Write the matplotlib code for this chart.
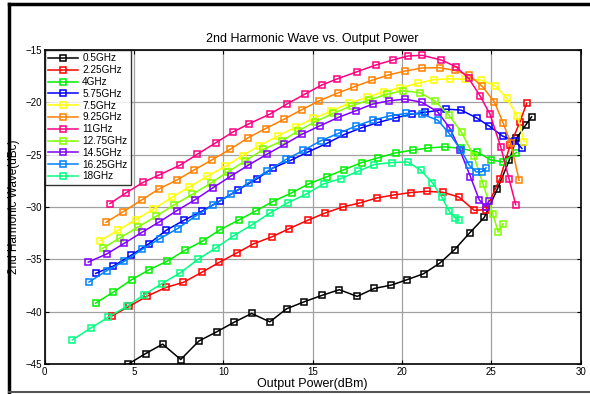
import matplotlib

matplotlib.use("Agg")
import matplotlib.pyplot as plt
from matplotlib.lines import Line2D

plt.rcParams["font.family"] = ["Liberation Sans", "DejaVu Sans"]

labels = ["0.5GHz", "2.25GHz", "4GHz", "5.75GHz", "7.5GHz", "9.25GHz",
          "11GHz", "12.75GHz", "14.5GHz", "16.25GHz", "18GHz"]
colors = ["#000000", "#ff0000", "#00ee00", "#0000ff", "#ffff00", "#ff8000",
          "#ff0080", "#80ff00", "#8000ff", "#0080ff", "#00ff80"]

# output power (dBm) / 2nd harmonic (dBc)
x_05 = [4.68, 5.65, 6.60, 7.61, 8.63, 9.62, 10.61, 11.58, 12.60, 13.54, 14.53, 15.52, 16.49, 17.49,
        18.44, 19.40, 20.27, 21.21, 22.12, 22.94, 23.78, 24.60, 25.33, 26.00, 26.40, 26.91, 27.25]
y_05 = [-45.0, -44.0, -43.1, -44.57, -42.8, -41.93, -41.0, -40.17, -40.97, -39.72, -39.05, -38.44, -37.9,
        -38.54, -37.78, -37.46, -36.95, -36.37, -35.35, -34.07, -32.48, -31.0, -28.3, -25.53, -23.45, -22.2, -21.38]

x_225 = [3.78, 4.72, 5.74, 6.79, 7.76, 8.79, 9.77, 10.74, 11.71, 12.70, 13.69, 14.72, 15.70, 16.68,
         17.64, 18.60, 19.55, 20.48, 21.41, 22.31, 23.18, 24.04, 24.70, 25.48, 26.05, 26.60, 26.97]
y_225 = [-40.39, -39.5, -38.51, -37.68, -37.2, -36.24, -35.29, -34.4, -33.5, -32.86, -32.06, -31.27, -30.57,
         -30.0, -29.61, -29.13, -28.85, -28.62, -28.5, -28.6, -29.05, -30.32, -30.25, -27.28, -24.1, -21.86, -20.1]

x_4 = [2.85, 3.84, 4.87, 5.85, 6.84, 7.85, 8.84, 9.83, 10.86, 11.82, 12.76, 13.82, 14.81, 15.78,
       16.77, 17.74, 18.67, 19.64, 20.59, 21.47, 22.40, 23.30, 24.18, 24.97, 25.63, 26.39]
y_4 = [-39.18, -38.13, -36.94, -35.99, -35.19, -34.14, -33.25, -32.16, -31.24, -30.37, -29.48, -28.65, -27.76,
       -27.12, -26.42, -25.75, -25.3, -24.83, -24.57, -24.36, -24.25, -24.4, -24.73, -25.5, -25.69, -24.8]

x_575 = [2.85, 3.84, 4.83, 5.84, 6.80, 7.79, 8.82, 9.81, 10.82, 11.89, 12.79, 13.78, 14.75, 15.78,
         16.77, 17.74, 18.67, 19.64, 20.54, 21.30, 22.46, 23.30, 24.17, 24.88, 25.63, 26.32, 26.71]
y_575 = [-36.34, -35.64, -34.62, -33.5, -32.22, -31.27, -30.37, -29.42, -28.37, -27.3, -26.26, -25.53, -24.73,
         -23.93, -23.07, -22.43, -21.92, -21.48, -21.12, -20.95, -20.65, -20.74, -21.48, -22.27, -23.23, -23.68, -24.41]

x_75 = [3.11, 4.10, 5.11, 6.08, 7.12, 8.10, 9.10, 10.09, 11.08, 11.98, 13.07, 14.04, 15.03, 16.00,
        17.01, 18.02, 18.97, 19.91, 20.87, 21.77, 22.70, 23.55, 24.40, 25.21, 25.87, 26.45, 26.83]
y_75 = [-33.21, -32.22, -31.2, -30.21, -29.07, -28.08, -27.06, -26.13, -25.08, -24.17, -23.2, -22.37, -21.54,
        -20.87, -20.1, -19.53, -18.99, -18.6, -18.19, -17.83, -17.75, -17.8, -17.87, -18.42, -19.62, -21.32, -23.75]

x_925 = [3.43, 4.40, 5.43, 6.40, 7.38, 8.37, 9.36, 10.39, 11.38, 12.37, 13.41, 14.38, 15.37, 16.40,
         17.33, 18.30, 19.23, 20.18, 21.13, 22.10, 22.95, 23.74, 24.49, 25.16, 25.66, 26.09, 26.55]
y_925 = [-31.46, -30.44, -29.32, -28.27, -27.44, -26.45, -25.5, -24.47, -23.39, -22.5, -21.6, -20.71, -19.85,
         -19.11, -18.51, -17.9, -17.39, -17.01, -16.72, -16.69, -16.95, -17.39, -18.48, -19.94, -21.99, -23.93, -27.45]

x_11 = [3.65, 4.55, 5.50, 6.38, 7.58, 8.54, 9.57, 10.52, 11.42, 12.61, 13.58, 14.57, 15.50, 16.34,
        17.49, 18.52, 19.47, 20.33, 21.13, 22.20, 23.02, 23.73, 24.36, 24.92, 25.52, 25.98, 26.36]
y_11 = [-29.67, -28.65, -27.65, -26.96, -26.0, -24.96, -23.87, -22.85, -22.06, -21.12, -20.14, -19.21, -18.35,
        -17.78, -17.07, -16.44, -15.96, -15.57, -15.51, -15.96, -16.6, -17.71, -19.37, -21.12, -24.25, -27.28, -29.77]

x_1275 = [3.24, 4.23, 5.24, 6.23, 7.23, 8.25, 9.28, 10.24, 11.21, 12.23, 13.26, 14.16, 15.13, 16.15,
          17.18, 18.15, 19.13, 20.07, 21.00, 21.84, 22.62, 23.33, 24.02, 24.54, 25.07, 25.38, 25.66]
y_1275 = [-33.95, -32.93, -31.9, -30.89, -29.8, -28.8, -27.75, -26.64, -25.62, -24.5, -23.71, -22.75, -21.86,
          -21.06, -20.33, -19.78, -19.24, -18.89, -19.08, -19.88, -21.22, -22.88, -25.14, -27.82, -30.63, -32.39, -31.59]

x_145 = [2.44, 3.47, 4.45, 5.44, 6.41, 7.40, 8.39, 9.40, 10.41, 11.40, 12.42, 13.41, 14.38, 15.41,
         16.43, 17.40, 18.35, 19.28, 20.18, 21.10, 21.99, 22.68, 23.24, 23.83, 24.32, 24.68, 24.88]
y_145 = [-35.26, -34.49, -33.47, -32.42, -31.43, -30.34, -29.33, -28.18, -27.06, -26.0, -24.98, -24.02, -23.07,
         -22.24, -21.44, -20.81, -20.17, -19.85, -19.69, -20.0, -20.9, -22.49, -24.57, -27.12, -29.32, -29.96, -29.38]

x_1625 = [2.48, 3.47, 4.45, 5.46, 6.45, 7.44, 8.45, 9.40, 10.43, 11.43, 12.46, 13.50, 14.47, 15.44,
          16.43, 17.42, 18.35, 19.32, 20.22, 21.10, 21.99, 22.64, 23.30, 23.76, 24.14, 24.45, 24.70]
y_1625 = [-37.17, -36.08, -35.19, -34.04, -33.02, -32.06, -30.86, -29.83, -28.78, -27.66, -26.58, -25.46, -24.6,
          -23.68, -22.97, -22.27, -21.7, -21.29, -21.06, -21.12, -21.7, -22.97, -24.57, -26.0, -26.64, -26.64, -26.26]

x_18 = [1.55, 2.57, 3.56, 4.59, 5.56, 6.55, 7.59, 8.58, 9.57, 10.59, 11.58, 12.61, 13.63, 14.62,
        15.61, 16.58, 17.55, 18.44, 19.42, 20.31, 21.04, 21.69, 22.22, 22.64, 22.96, 23.18]
y_18 = [-42.69, -41.57, -40.52, -39.5, -38.38, -37.33, -36.28, -35.0, -33.92, -32.73, -31.72, -30.57, -29.57,
        -28.78, -27.79, -27.28, -26.58, -25.94, -25.75, -25.69, -26.48, -27.66, -29.04, -30.41, -31.01, -31.27]

xs = [x_05, x_225, x_4, x_575, x_75, x_925, x_11, x_1275, x_145, x_1625, x_18]
ys = [y_05, y_225, y_4, y_575, y_75, y_925, y_11, y_1275, y_145, y_1625, y_18]

fig = plt.figure(figsize=(5.9, 3.94), dpi=100)
ax = fig.add_axes([0.0758, 0.0761, 0.9085, 0.7970])

for x, y, c, lab in zip(xs, ys, colors, labels):
    ax.plot(x, y, color=c, lw=1.1, marker="s", ms=5, mfc="none", mec=c, mew=1.1, label=lab)

ax.set_xlim(0, 30)
ax.set_ylim(-45, -15)
ax.set_xticks(range(0, 31, 5))
ax.set_yticks(range(-45, -14, 5))
ax.grid(True, color="#a0a0a0", lw=0.9)
ax.tick_params(direction="in", top=True, right=True, labelsize=7, length=3, pad=2)
for s in ax.spines.values():
    s.set_linewidth(1.2)

ax.set_title("2nd Harmonic Wave vs. Output Power", fontsize=9, pad=6)
ax.set_xlabel("Output Power(dBm)", fontsize=9, labelpad=1)
ax.set_ylabel("2nd Harmonic Wave(dBc)", fontsize=8.5, labelpad=4)

leg = ax.legend(loc="upper left", fontsize=7.2, borderaxespad=0, frameon=True, fancybox=False,
                edgecolor="black", handlelength=3.0, handletextpad=0.4, labelspacing=0.18,
                borderpad=0.35)
leg.get_frame().set_linewidth(1.0)

# outer figure frame
fig.add_artist(Line2D([0.015, 0.015], [0.005, 0.99], transform=fig.transFigure, color="black", lw=2.5))
fig.add_artist(Line2D([0.015, 1.0], [0.99, 0.99], transform=fig.transFigure, color="black", lw=2.5))
fig.add_artist(Line2D([0.015, 1.0], [0.006, 0.006], transform=fig.transFigure, color="#555555", lw=1.5))

fig.savefig("out.png", dpi=100)
